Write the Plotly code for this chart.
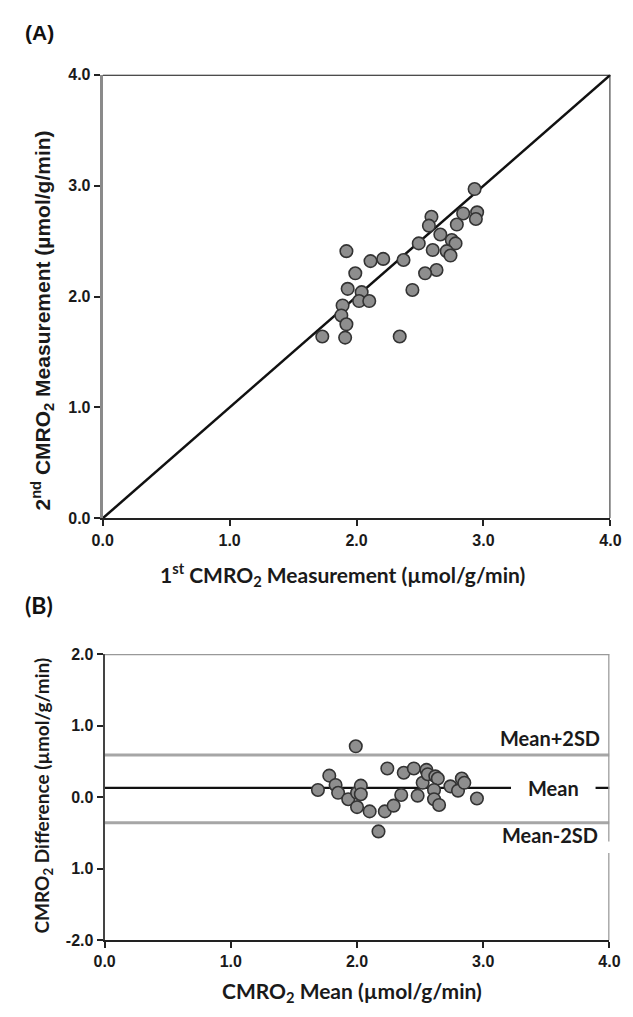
import plotly.graph_objects as go

# Panel A: 1st vs 2nd CMRO2 measurement (umol/g/min)
first_meas = [2.93, 2.59, 2.57, 2.84, 2.95, 2.94, 2.79, 2.66, 2.75, 2.78, 2.49, 2.60, 2.71, 2.74,
              1.92, 2.11, 2.21, 2.37, 1.99, 2.63, 2.54, 1.93, 2.44, 2.04, 2.02, 2.10, 1.89, 1.88,
              1.92, 1.73, 1.91, 2.34]
second_meas = [2.97, 2.72, 2.64, 2.75, 2.76, 2.70, 2.65, 2.56, 2.51, 2.48, 2.48, 2.42, 2.41, 2.37,
               2.41, 2.32, 2.34, 2.33, 2.21, 2.24, 2.21, 2.07, 2.06, 2.04, 1.96, 1.96, 1.92, 1.83,
               1.75, 1.64, 1.63, 1.64]

# Panel B: Bland-Altman (mean vs difference)
ba_mean = [1.99, 1.69, 1.78, 1.83, 1.85, 1.93, 2.00, 2.00, 2.03, 2.03, 2.10, 2.22, 2.29, 2.17,
           2.24, 2.37, 2.45, 2.35, 2.48, 2.52, 2.55, 2.56, 2.62, 2.64, 2.61, 2.61, 2.65, 2.74,
           2.80, 2.83, 2.85, 2.95]
ba_diff = [0.71, 0.10, 0.30, 0.17, 0.06, -0.03, -0.14, 0.06, 0.16, 0.04, -0.20, -0.20, -0.12, -0.48,
           0.40, 0.34, 0.40, 0.03, 0.02, 0.20, 0.38, 0.32, 0.29, 0.26, 0.10, -0.03, -0.11, 0.15,
           0.09, 0.26, 0.20, -0.02]
mean_diff = 0.13
upper_loa = 0.59
lower_loa = -0.36

x_ticks = [0, 1, 2, 3, 4]
x_ticktext = ["0.0", "1.0", "2.0", "3.0", "4.0"]
yA_ticks = [0, 1, 2, 3, 4]
yA_ticktext = ["0.0", "1.0", "2.0", "3.0", "4.0"]
yB_ticks = [-2, -1, 0, 1, 2]
yB_ticktext = ["-2.0", "1.0", "0.0", "1.0", "2.0"]

W, H = 633, 1017
def px(y):
    return 1 - y / H

tick_font = dict(family="Liberation Sans", size=16, color="#1a1a1a", weight="bold")
lab_font = dict(family="Lato", size=21, color="#1a1a1a")
note_font = dict(family="Lato", size=20, color="#1a1a1a")

fig = go.Figure()
marker = dict(size=12.5, color="#8e8e8e", line=dict(color="#333", width=1.6))

fig.add_trace(go.Scatter(x=[0, 4], y=[0, 4], mode="lines", line=dict(color="#111", width=2.5),
                         xaxis="x", yaxis="y", showlegend=False, hoverinfo="skip"))
fig.add_trace(go.Scatter(x=first_meas, y=second_meas, mode="markers", marker=marker,
                         xaxis="x", yaxis="y", showlegend=False))

# Panel B lines
fig.add_trace(go.Scatter(x=[0, 4], y=[upper_loa, upper_loa], mode="lines",
                         line=dict(color="#a6a6a6", width=3), xaxis="x2", yaxis="y2",
                         showlegend=False, hoverinfo="skip"))
fig.add_trace(go.Scatter(x=[0, 4], y=[lower_loa, lower_loa], mode="lines",
                         line=dict(color="#a6a6a6", width=3), xaxis="x2", yaxis="y2",
                         showlegend=False, hoverinfo="skip"))
fig.add_trace(go.Scatter(x=[0, 3.22, None, 3.89, 4.0], y=[mean_diff, mean_diff, None, mean_diff, mean_diff],
                         mode="lines", line=dict(color="#111", width=2.2), xaxis="x2", yaxis="y2",
                         showlegend=False, hoverinfo="skip"))
fig.add_trace(go.Scatter(x=ba_mean, y=ba_diff, mode="markers", marker=marker,
                         xaxis="x2", yaxis="y2", showlegend=False))

axis_common = dict(range=[0, 4], tickvals=x_ticks, ticktext=x_ticktext, ticks="outside",
                   ticklen=6, tickwidth=2, tickcolor="#222", showgrid=False, zeroline=False,
                   tickfont=tick_font, showline=True, linewidth=2, linecolor="#222")

fig.update_layout(
    width=W, height=H, margin=dict(l=0, r=0, t=0, b=0),
    paper_bgcolor="white", plot_bgcolor="white",
    xaxis=dict(domain=[95 / W, 621 / W], anchor="y", **axis_common),
    yaxis=dict(domain=[px(519), px(68)], anchor="x", range=[0, 4], tickvals=yA_ticks,
               ticktext=yA_ticktext, ticks="outside", ticklen=6, tickwidth=2, tickcolor="#222",
               showgrid=False, zeroline=False, tickfont=tick_font, showline=True,
               linewidth=3, linecolor="#8a8a8a"),
    xaxis2=dict(domain=[97 / W, 620 / W], anchor="y2", **axis_common),
    yaxis2=dict(domain=[px(948), px(657)], anchor="x2", range=[-2, 2], tickvals=yB_ticks,
                ticktext=yB_ticktext, ticks="outside", ticklen=6, tickwidth=2, tickcolor="#222",
                showgrid=False, zeroline=False, tickfont=tick_font, showline=True,
                linewidth=2, linecolor="#444"),
)

# Frames (top/right borders)
fig.add_shape(type="line", xref="x", yref="y", x0=0, x1=4, y0=4, y1=4, line=dict(color="#111", width=2))
fig.add_shape(type="line", xref="x", yref="y", x0=4, x1=4, y0=0, y1=4, line=dict(color="#222", width=2))
fig.add_shape(type="line", xref="x2", yref="y2", x0=0, x1=4, y0=2, y1=2, line=dict(color="#999", width=2.5))
fig.add_shape(type="line", xref="x2", yref="y2", x0=4, x1=4, y0=-0.62, y1=2, line=dict(color="#999", width=2.5))
fig.add_shape(type="line", xref="x2", yref="y2", x0=4, x1=4, y0=-2, y1=-0.78, line=dict(color="#999", width=2.5))

ann = []
ann.append(dict(text="<b>(A)</b>", x=12 / W, y=px(25), xref="paper", yref="paper", showarrow=False,
                xanchor="left", yanchor="middle", font=dict(family="Liberation Sans", size=21, color="#111")))
ann.append(dict(text="<b>(B)</b>", x=12 / W, y=px(607), xref="paper", yref="paper", showarrow=False,
                xanchor="left", yanchor="middle", font=dict(family="Lato", size=23, color="#111")))
ann.append(dict(text="<b>1<sup>st</sup> CMRO<sub>2</sub> Measurement (µmol/g/min)</b>", x=343 / W, y=px(576),
                xref="paper", yref="paper", showarrow=False, xanchor="center", yanchor="middle", font=lab_font))
ann.append(dict(text="<b>2<sup>nd</sup> CMRO<sub>2</sub> Measurement (µmol/g/min)</b>", x=33 / W, y=px(318),
                xref="paper", yref="paper", showarrow=False, textangle=-90, xanchor="center", yanchor="middle",
                font=dict(family="Liberation Sans", size=21, color="#1a1a1a")))
ann.append(dict(text="<b>CMRO<sub>2</sub> Difference (µmol/g/min)</b>", x=33 / W, y=px(801),
                xref="paper", yref="paper", showarrow=False, textangle=-90, xanchor="center", yanchor="middle",
                font=dict(family="Lato", size=19, color="#1a1a1a")))
ann.append(dict(text="<b>CMRO<sub>2</sub> Mean (µmol/g/min)</b>", x=353 / W, y=px(1001),
                xref="paper", yref="paper", showarrow=False, xanchor="center", yanchor="middle", font=lab_font))
ann.append(dict(text="<b>Mean+2SD</b>", x=3.53, y=0.82, xref="x2", yref="y2", showarrow=False,
                font=note_font))
ann.append(dict(text="<b>Mean</b>", x=3.56, y=mean_diff, xref="x2", yref="y2", showarrow=False,
                font=note_font))
ann.append(dict(text="<b>Mean-2SD</b>", x=3.53, y=-0.53, xref="x2", yref="y2", showarrow=False,
                font=note_font))
fig.update_layout(annotations=ann)

fig.write_html("out.html", config={"displayModeBar": False},
               post_script="document.body.style.margin='0';document.body.style.overflow='hidden';")
